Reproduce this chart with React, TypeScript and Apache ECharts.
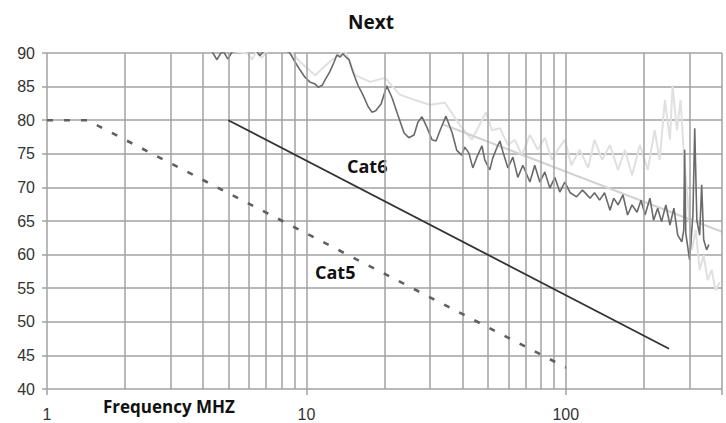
import React, { useEffect, useRef } from "react";
import * as echarts from "echarts";

// Frequency (MHz) and level (dB)
const measuredFreq = [4.17, 4.36, 4.52, 4.68, 4.81, 4.98, 5.16, 5.54, 6.45, 6.62, 6.8, 7.9, 8.64, 9.03, 9.44, 9.87, 10.3, 10.8, 11.1, 11.5, 11.8, 12.3, 12.8, 13.1, 13.5, 13.8, 14.2, 14.6, 15.1, 15.8, 16.5, 17.3, 17.9, 18.5, 19.4, 20.4, 21.4, 22.5, 23.8, 24.8, 26.0, 26.9, 27.9, 29.1, 30.5, 31.6, 33.0, 34.5, 36.4, 38.0, 39.7, 40.8, 42.3, 43.8, 45.4, 47.5, 48.7, 50.9, 52.3, 54.2, 55.7, 57.2, 59.8, 62.5, 65.3, 68.3, 72.7, 75.9, 79.4, 83.0, 86.8, 90.7, 94.8, 99.1, 104, 110, 116, 124, 129, 135, 141, 148, 153, 159, 166, 173, 180, 188, 195, 202, 211, 218, 226, 234, 243, 252, 261, 270, 280, 285, 287, 290, 300, 309, 314, 320, 328, 334, 340, 349, 356];
const measuredDb = [92, 90, 89.0, 90, 90.1, 89.1, 90.1, 91.2, 90.2, 89.6, 90.2, 91, 90, 88.7, 87.5, 86.4, 85.7, 85.4, 84.9, 85.2, 86.0, 87.2, 88.7, 89.7, 89.4, 89.9, 89.4, 89.0, 87.2, 85.2, 83.8, 82.0, 81.2, 81.4, 82.4, 85.1, 83.3, 80.8, 78.1, 77.4, 77.8, 79.7, 80.5, 79.0, 77.1, 76.9, 78.8, 80.6, 78.2, 75.5, 74.8, 76.0, 75.1, 72.9, 74.5, 76.2, 74.1, 72.6, 74.4, 75.9, 76.9, 75.3, 72.9, 74.5, 71.5, 73.3, 70.8, 73.3, 70.8, 72.3, 69.9, 71.5, 69.3, 70.8, 69.2, 68.6, 69.6, 68.4, 69.2, 68.1, 69.2, 66.6, 68.4, 67.4, 68.9, 65.9, 67.4, 66.3, 68.1, 65.9, 68.4, 65.1, 66.9, 64.9, 67.4, 64.4, 66.9, 62.9, 61.9, 63.7, 75.6, 63.2, 59.2, 65.9, 78.8, 65.1, 62.9, 70.4, 62.2, 60.7, 61.5];

const otherFreq = [3.89, 5.95, 6.17, 6.39, 6.74, 7.11, 8.64, 9.44, 10.8, 12.3, 14.1, 15.4, 17.6, 20.1, 22.9, 26.2, 29.9, 34.2, 39.0, 43.4, 45.8, 49.2, 51.9, 55.7, 59.8, 63.6, 67.7, 72.7, 78.0, 83.0, 88.3, 93.2, 99.1, 105, 113, 122, 129, 138, 148, 159, 169, 180, 193, 207, 220, 230, 241, 252, 258, 268, 277, 287, 295, 306, 317, 328, 340, 352, 365, 378, 392];
const otherDb = [91.2, 89.9, 89.0, 90.1, 89.3, 90.4, 90.4, 88.7, 86.7, 88.7, 90.4, 86.7, 85.7, 86.3, 83.8, 83.0, 82.3, 82.6, 79.3, 77.1, 78.8, 81.2, 78.5, 78.8, 76.3, 77.1, 74.8, 77.8, 75.6, 77.4, 74.1, 75.6, 77.1, 73.3, 75.6, 72.9, 77.1, 74.1, 76.3, 72.6, 75.6, 71.8, 76.3, 72.6, 78.5, 74.1, 83.0, 77.1, 85.2, 78.5, 83.0, 73.3, 68.1, 60.7, 63.7, 57.7, 59.9, 56.2, 57.7, 54.7, 55.9];

const otherLimitFreq = [33.5, 400];
const otherLimitDb = [79.4, 63.4];

const cat5Freq = [1, 1.43, 100];
const cat5Db = [80, 80, 43.2];

const cat6Freq = [5, 250];
const cat6Db = [80, 46];

const xGridValues = [1, 2, 3, 4, 5, 6, 7, 8, 9, 10, 20, 30, 40, 50, 60, 70, 80, 90, 100, 200, 300, 400];
const xTickLabels = [1, 10, 100];

const zip = (xs: number[], ys: number[]) => xs.map((x, i) => [x, ys[i]]);

const GRID = "#a2a2a2";

export default function App() {
  const ref = useRef<HTMLDivElement>(null);
  useEffect(() => {
    document.body.style.margin = "0";
    const chart = echarts.init(ref.current!, null, { renderer: "svg" });
    chart.setOption({
      animation: false,
      backgroundColor: "#ffffff",
      title: {
        text: "Next",
        left: 343,
        top: 7,
        textStyle: { fontFamily: "Open Sans", fontWeight: "bold", fontSize: 19, color: "#111" },
      },
      grid: { left: 47, right: 4, top: 53, bottom: 34 },
      xAxis: {
        type: "log",
        logBase: 10,
        min: 1,
        max: 400,
        axisLine: { show: false },
        axisTick: { show: true, length: 6, lineStyle: { color: GRID, width: 1.5 } },
        splitLine: { show: false },
        axisLabel: {
          margin: 17,
          fontSize: 16,
          color: "#333",
          fontFamily: "Liberation Sans",
          formatter: (v: number) => {
            const r = Math.round(v);
            return xTickLabels.includes(r) ? String(r) : "";
          },
        },
      },
      yAxis: {
        type: "value",
        min: 40,
        max: 90,
        interval: 5,
        axisLine: { show: false },
        axisTick: { show: true, length: 5, lineStyle: { color: GRID, width: 1.5 } },
        splitLine: { show: true, lineStyle: { color: GRID, width: 1.5 } },
        axisLabel: { margin: 12, fontSize: 16, color: "#333", fontFamily: "Liberation Sans" },
      },
      series: [
        {
          type: "line",
          data: [[1, 40]],
          symbol: "none",
          lineStyle: { width: 0 },
          z: 1,
          markLine: {
            silent: true,
            symbol: ["none", "none"],
            label: { show: false },
            lineStyle: { color: GRID, width: 1.5, type: "solid" },
            data: xGridValues.map((v) => ({ xAxis: v })),
          },
        },
        {
          type: "line",
          data: zip(otherFreq, otherDb),
          symbol: "none",
          lineStyle: { color: "#e0e0e0", width: 2 },
          z: 2,
        },
        {
          type: "line",
          data: zip(otherLimitFreq, otherLimitDb),
          symbol: "none",
          lineStyle: { color: "#d2d2d2", width: 2 },
          z: 3,
        },
        {
          type: "line",
          data: zip(measuredFreq, measuredDb),
          symbol: "none",
          lineStyle: { color: "#6a6a6a", width: 1.6 },
          z: 4,
        },
        {
          type: "line",
          data: zip(cat5Freq, cat5Db),
          symbol: "none",
          lineStyle: { color: "#606060", width: 2.6, type: [6, 11] },
          z: 5,
        },
        {
          type: "line",
          data: zip(cat6Freq, cat6Db),
          symbol: "none",
          lineStyle: { color: "#333", width: 1.8 },
          z: 6,
        },
      ],
      graphic: [
        {
          type: "text",
          left: 347,
          top: 157,
          style: { text: "Cat6", fontFamily: "Open Sans", fontWeight: "bold", fontSize: 18, fill: "#111" },
        },
        {
          type: "text",
          left: 315,
          top: 263,
          style: { text: "Cat5", fontFamily: "Open Sans", fontWeight: "bold", fontSize: 18, fill: "#111" },
        },
        {
          type: "text",
          left: 103,
          top: 398,
          style: { text: "Frequency MHZ", fontFamily: "Open Sans", fontWeight: "bold", fontSize: 17, fill: "#111" },
        },
      ],
    });
    return () => chart.dispose();
  }, []);
  return <div ref={ref} style={{ width: 726, height: 423 }} />;
}
